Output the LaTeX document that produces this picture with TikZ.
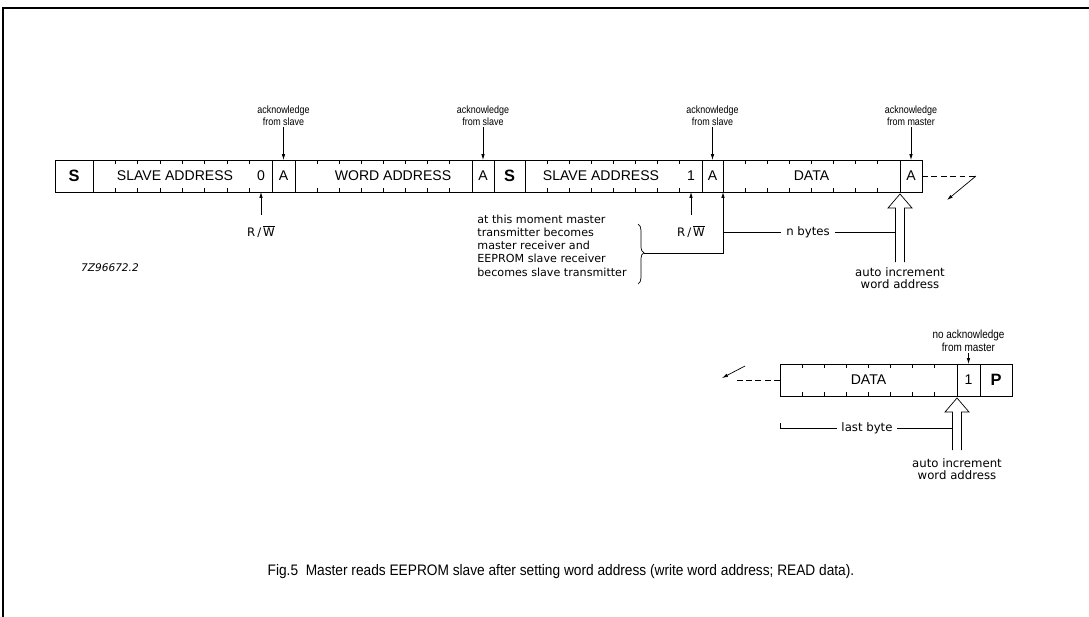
\documentclass[tikz,border=0pt]{standalone}
\usepackage{fontspec}
\setmainfont{Liberation Sans}
\newfontfamily\dvfont{DejaVu Sans}
\newfontfamily\narrowfont[FakeStretch=0.85]{Liberation Sans}
\newfontfamily\capfont[FakeStretch=0.9]{Liberation Sans}
\usetikzlibrary{arrows.meta, decorations.pathreplacing, calc}

\tikzset{
	field/.style={draw, thick, inner sep=0pt, outer sep=0pt, minimum height=0.96cm, font=\fontsize{12}{14}\selectfont},
	cells/.style={field, minimum width=#1*0.03cm},
	startstop/.style={font=\bfseries\fontsize{14}{16}\selectfont},
	lab/.style={inner sep=0pt, font=\fontsize{12}{14}\selectfont},
	ack/.style={align=center, inner sep=1pt, font=\narrowfont\fontsize{9}{10.2}\selectfont},
	note/.style={inner sep=1pt, font=\dvfont\fontsize{10}{10.5}\selectfont},
	arr/.style={semithick, -{Latex[length=5pt,width=3pt]}},
	pics/incr/.style={code={
		\draw[semithick] (-4.5,#1) -- (-4.5,16) -- (-12,16) -- (0,2) -- (12,16) -- (4.5,16) -- (4.5,#1);
	}}
}

\begin{document}
\begin{tikzpicture}[x=0.03cm, y=-0.03cm]
	\path[use as bounding box] (0,0) rectangle (1089,617);
	\draw[line width=1.2pt] (1089,8) -- (3,8) -- (3,617);
	
	% write word address, then read
	\node[cells=38, startstop] (s1) at (74,176) {S};
	\node[cells=179] (sa1) at (182.5,176) {};
	\node[cells=23] (a1) at (283.5,176) {A};
	\node[cells=177] (wa) at (383.5,176) {};
	\node[cells=22] (a2) at (483,176) {A};
	\node[cells=31, startstop] (s2) at (509.5,176) {S};
	\node[cells=177] (sa2) at (613.5,176) {};
	\node[cells=21] (a3) at (712.5,176) {A};
	\node[cells=177] (d1) at (811.5,176) {DATA};
	\node[cells=22] (a4) at (911,176) {A};
	
	\node[lab] (sa1t) at (175,176) {SLAVE ADDRESS};
	\node[lab] (bit0) at (261,176) {0};
	\node[lab] (wat) at (393,176) {WORD ADDRESS};
	\node[lab] (sa2t) at (601,176) {SLAVE ADDRESS};
	\node[lab] (bit1) at (691,176) {1};
	
	% last byte
	\node[cells=177] (d2) at (868.5,380) {DATA};
	\node[cells=23] (one) at (968.5,380) {1};
	\node[cells=32, startstop] (p) at (996,380) {P};
	
	\foreach \f in {sa1,wa,sa2,d1,d2} {
		\foreach \i in {1,...,7} {
			\draw[thick] ($(\f.north west)!\i/8!(\f.north east)$) -- ++(0,4);
			\draw[thick] ($(\f.south west)!\i/8!(\f.south east)$) -- ++(0,-4);
		}
	}
	
	% acknowledges
	\node[ack] (ack1) at (283.5,116) {acknowledge\\from slave};
	\node[ack] (ack2) at (483,116) {acknowledge\\from slave};
	\node[ack] (ack3) at (712.5,116) {acknowledge\\from slave};
	\node[ack] (ack4) at (911,116) {acknowledge\\from master};
	\node[ack, font=\narrowfont\fontsize{10}{11}\selectfont] (nack) at (968.5,341) {no acknowledge\\from master};
	\draw[arr] (ack1.south) -- (a1.north);
	\draw[arr] (ack2.south) -- (a2.north);
	\draw[arr] (ack3.south) -- (a3.north);
	\draw[arr] (ack4.south) -- (a4.north);
	\draw[arr] (nack.south) -- (one.north);
	
	% R/W bits
	\node[note] (rw1) at (261,232) {R\,/\,$\overline{\mbox{W}}$};
	\node[note] (rw2) at (691,232) {R\,/\,$\overline{\mbox{W}}$};
	\draw[arr] ([yshift=8pt]rw1.north) -- (rw1 |- sa1.south);
	\draw[arr] ([yshift=8pt]rw2.north) -- (rw2 |- sa2.south);
	
	\node[note, font=\dvfont\fontsize{9.5}{11.3}\selectfont, align=left, anchor=west] (moment) at (476,245.5)
		{at this moment master\\transmitter becomes\\master receiver and\\EEPROM slave receiver\\becomes slave transmitter};
	\draw[semithick, decorate, decoration={brace, amplitude=5pt, aspect=0.48}] (638,224) -- (638,284);
	\coordinate (tip) at (644,253);
	\draw[arr] (tip) -| (d1.south west);
	
	% n bytes
	\pic at (d1.south east) {incr=70};
	\coordinate (sh1) at ($(d1.south east)+(-4.5,0)$);
	\node[note, inner xsep=4pt] (nb) at (808,232) {n bytes};
	\draw[semithick] (nb.west) -- (nb.west -| d1.south west);
	\draw[semithick] (nb.east) -- (nb.east -| sh1);
	\node[note, align=center] (w1) at (900,278) {auto increment\\word address};
	
	\pic at (d2.south east) {incr=54};
	\coordinate (sh2) at ($(d2.south east)+(-4.5,0)$);
	\node[note, inner xsep=4pt] (lb) at (867,428) {last byte};
	\draw[semithick] (lb.west) -- (lb.west -| d2.south west) -- ++(0,-5);
	\draw[semithick] (lb.east) -- (lb.east -| sh2);
	\node[note, align=center] (w2) at (957,469) {auto increment\\word address};
	
	% continuation
	\draw[semithick, dash pattern=on 5pt off 3pt] (a4.east) -- ++(54,0) coordinate (contR);
	\draw[arr] (contR) -- ++(-29,24);
	\draw[semithick, dash pattern=on 5pt off 3pt] (d2.west) -- ++(-44,0) coordinate (contL);
	\draw[arr] ($(contL)+(9,-14)$) -- ++(-23,12);
	
	\node[font=\dvfont\itshape\fontsize{9}{11}\selectfont] (code) at (110,268) {7Z96672.2};
	\node[font=\capfont\fontsize{13}{15}\selectfont] (cap) at (561,572)
		{Fig.5\ \ Master reads EEPROM slave after setting word address (write word address; READ data).};
\end{tikzpicture}
\end{document}
